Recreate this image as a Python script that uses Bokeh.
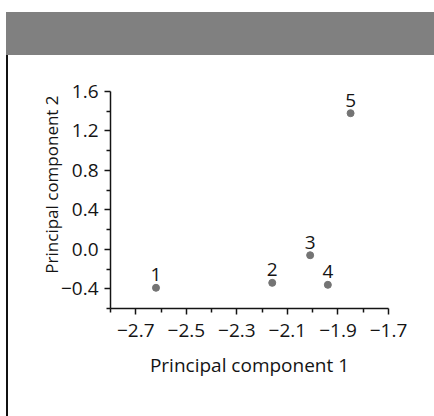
from bokeh.plotting import figure
from bokeh.models import ColumnDataSource, FixedTicker, Range1d, Div
from bokeh.layouts import column, row
from bokeh.core.properties import value
from bokeh.embed import file_html
from bokeh.resources import INLINE

# Scores of five samples on the first two principal components
sample_ids = ["1", "2", "3", "4", "5"]
pc1 = [-2.62, -2.16, -2.01, -1.94, -1.85]
pc2 = [-0.39, -0.34, -0.06, -0.36, 1.38]

x_ticks = [-2.7, -2.5, -2.3, -2.1, -1.9, -1.7]
x_tick_labels = ["\u22122.7", "\u22122.5", "\u22122.3", "\u22122.1", "\u22121.9", "\u22121.7"]
x_minor = [-2.8, -2.6, -2.4, -2.2, -2.0, -1.8]
y_ticks = [-0.4, 0.0, 0.4, 0.8, 1.2, 1.6]
y_tick_labels = ["\u22120.4", "0.0", "0.4", "0.8", "1.2", "1.6"]
y_minor = [-0.6, -0.2, 0.2, 0.6, 1.0, 1.4]

FONT = "Open Sans"
INK = "#141414"
SIZE = "19px"

p = figure(width=426, height=361, output_backend="svg", toolbar_location=None,
           x_range=Range1d(-2.8, -1.7), y_range=Range1d(-0.6, 1.6),
           min_border_left=102, min_border_right=46,
           min_border_top=36, min_border_bottom=108)
p.outline_line_color = None
p.grid.grid_line_color = None
p.background_fill_color = "white"
p.border_fill_color = "white"

src = ColumnDataSource(dict(x=pc1, y=pc2, label=sample_ids))
p.scatter("x", "y", source=src, size=7, color="#747474")
p.text("x", "y", text="label", source=src, text_align="center",
       text_baseline="alphabetic", y_offset=-13, text_font_size=SIZE,
       text_color=INK, text_font=value(FONT))

for ax, ticks, minor, labels in ((p.xaxis[0], x_ticks, x_minor, x_tick_labels),
                                 (p.yaxis[0], y_ticks, y_minor, y_tick_labels)):
    ax.ticker = FixedTicker(ticks=ticks, minor_ticks=minor)
    ax.major_label_overrides = {t: l for t, l in zip(ticks, labels)}
    ax.axis_line_color = INK
    ax.axis_line_width = 1.5
    ax.major_tick_line_color = INK
    ax.major_tick_line_width = 1.5
    ax.minor_tick_line_color = INK
    ax.minor_tick_line_width = 1.5
    ax.major_tick_in = 0
    ax.major_tick_out = 6
    ax.minor_tick_in = 0
    ax.minor_tick_out = 4
    ax.major_label_text_font = FONT
    ax.major_label_text_font_size = SIZE
    ax.major_label_text_color = INK
    ax.axis_label_text_font = FONT
    ax.axis_label_text_font_style = "normal"
    ax.axis_label_text_color = INK

p.xaxis.axis_label = "Principal component 1"
p.xaxis.axis_label_text_font_size = "19px"
# leading no-break spaces lift the rotated title a little above the axis centre
p.yaxis.axis_label = "\u00a0" * 7 + "Principal component 2"
p.yaxis.axis_label_text_font_size = "17px"
p.xaxis.major_label_standoff = 9
p.xaxis.axis_label_standoff = 12
p.yaxis.major_label_standoff = 6
p.yaxis.axis_label_standoff = -5

# grey header band and the dark rule down the left side of the panel
band = Div(text='<div style="margin:12px 0 0 6px;width:428px;height:43px;'
                'background:#808080"></div>',
           width=434, height=55, styles={"margin": "0", "padding": "0"})
rule = Div(text='<div style="margin-left:6px;width:2px;height:361px;'
                'background:#111111"></div>',
           width=8, height=361, styles={"margin": "0", "padding": "0"})

layout = column(band, row(rule, p, spacing=0), spacing=0)

open("out.html", "w").write(file_html(layout, INLINE))
